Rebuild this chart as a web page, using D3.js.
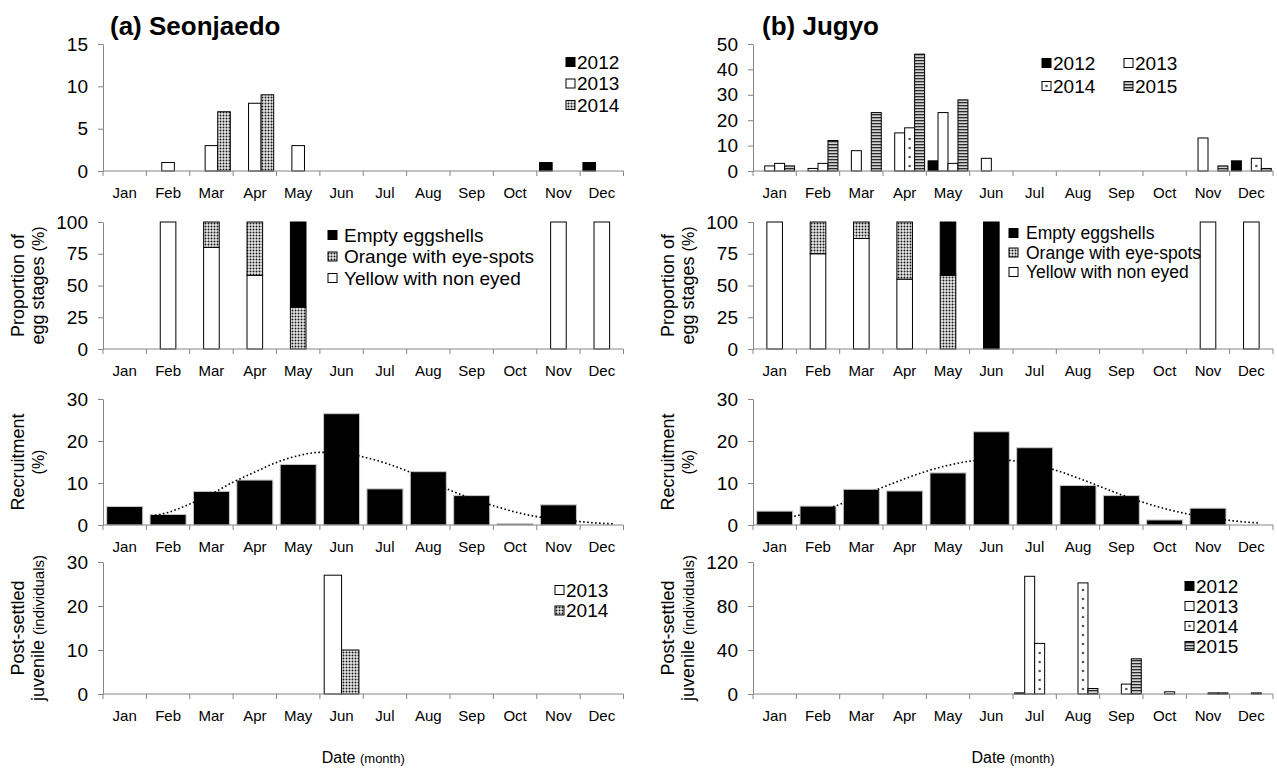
<!DOCTYPE html>
<html>
<head>
<meta charset="utf-8">
<script src="https://cdn.jsdelivr.net/npm/d3@7"></script>
<style>
  body { margin: 0; background: #fff; }
  text { font-family: "Liberation Sans", Arial, Helvetica, sans-serif; fill: #000; }
</style>
</head>
<body>
<svg id="fig" width="1277" height="769"></svg>
<script>
// ---------- data ----------
const months = ["Jan","Feb","Mar","Apr","May","Jun","Jul","Aug","Sep","Oct","Nov","Dec"];

// Egg masses per month, Seonjaedo
const seonEggYears = ["2012","2013","2014"];
const seonEgg2012 = [0,0,0,0,0,0,0,0,0,0,1,1];
const seonEgg2013 = [0,1,3,8,3,0,0,0,0,0,0,0];
const seonEgg2014 = [0,0,7,9,0,0,0,0,0,0,0,0];

// Egg masses per month, Jugyo
const jugEggYears = ["2012","2013","2014","2015"];
const jugEgg2012 = [0,0,0,0,4,0,0,0,0,0,0,4];
const jugEgg2013 = [2,1,8,15,23,5,0,0,0,0,13,0];
const jugEgg2014 = [3,3,0,17,3,0,0,0,0,0,0,5];
const jugEgg2015 = [2,12,23,46,28,0,0,0,0,0,2,1];

// Proportion of egg stages (%)
const stageNames = ["Empty eggshells","Orange with eye-spots","Yellow with non eyed"];
const seonYellow = [0,100,80,58,0,0,0,0,0,0,100,100];
const seonOrange = [0,0,20,42,33,0,0,0,0,0,0,0];
const seonEmpty  = [0,0,0,0,67,0,0,0,0,0,0,0];
const jugYellow  = [100,75,87,55,0,0,0,0,0,0,100,100];
const jugOrange  = [0,25,13,45,58,0,0,0,0,0,0,0];
const jugEmpty   = [0,0,0,0,42,100,0,0,0,0,0,0];

// Recruitment (%)
const seonRecruit = [4.4,2.5,8.0,10.7,14.4,26.5,8.6,12.7,7.0,0.3,4.8,0];
const jugRecruit  = [3.3,4.5,8.5,8.1,12.4,22.2,18.4,9.4,7.0,1.2,4.0,0];
// Fitted seasonal curve, [month position, %]
const seonCurve = [[1.7,2.3],[2.0,3.0],[2.5,5.0],[3.0,7.4],[3.5,10.2],[4.0,12.6],[4.5,14.9],[5.0,16.5],[5.5,17.3],[6.0,17.2],[6.5,16.2],[7.0,14.8],[7.5,12.9],[8.0,10.8],[8.5,8.3],[9.0,6.3],[9.5,4.6],[10.0,3.1],[10.5,2.0],[11.0,1.3],[11.5,0.8],[12.0,0.4],[12.25,0.3]];
const jugCurve  = [[1.45,2.1],[2.0,3.3],[2.5,4.9],[3.0,6.9],[3.5,9.0],[4.0,11.0],[4.5,12.8],[5.0,14.2],[5.5,15.2],[6.0,15.6],[6.5,15.3],[7.0,14.4],[7.5,13.0],[8.0,11.2],[8.5,9.2],[9.0,7.2],[9.5,5.4],[10.0,3.9],[10.5,2.7],[11.0,1.8],[11.5,1.1],[12.0,0.6],[12.15,0.5]];

// Post-settled juveniles (individuals)
const seonJuvYears = ["2013","2014"];
const seonJuv2013 = [0,0,0,0,0,27,0,0,0,0,0,0];
const seonJuv2014 = [0,0,0,0,0,10,0,0,0,0,0,0];
const jugJuvYears = ["2012","2013","2014","2015"];
const jugJuv2012 = [0,0,0,0,0,0,1,0,0,0,0,0];
const jugJuv2013 = [0,0,0,0,0,0,107,0,0,0,0,0];
const jugJuv2014 = [0,0,0,0,0,0,46,101,9,2,1,1];
const jugJuv2015 = [0,0,0,0,0,0,0,5,32,0,1,0];

// Axis ticks
const eggTicksA = [0,5,10,15];
const eggTicksB = [0,10,20,30,40,50];
const propTicks = [0,25,50,75,100];
const recTicks = [0,10,20,30];
const juvTicksA = [0,10,20,30];
const juvTicksB = [0,40,80,120];

// ---------- drawing ----------
const svg = d3.select("#fig");
const defs = svg.append("defs");
const FONT = '"Liberation Sans", Arial, Helvetica, sans-serif';
const AXIS = "#868686";

// dense dotted fill
const dense = defs.append("pattern").attr("id","dense")
  .attr("patternUnits","userSpaceOnUse").attr("width",3).attr("height",3);
dense.append("rect").attr("width",3).attr("height",3).attr("fill","#ebebeb");
dense.append("circle").attr("cx",1.5).attr("cy",1.5).attr("r",1.0).attr("fill","#1a1a1a");

// horizontal stripes
const stripes = defs.append("pattern").attr("id","stripes")
  .attr("patternUnits","userSpaceOnUse").attr("width",4).attr("height",3);
stripes.append("rect").attr("width",4).attr("height",3).attr("fill","#d4d4d4");
stripes.append("rect").attr("width",4).attr("height",1.3).attr("fill","#2b2b2b");

const styles = {
  black:  {fill:"#000"},
  white:  {fill:"#fff"},
  dense:  {fill:"url(#dense)"},
  sparse: {fill:"#fff", dots:true},
  stripe: {fill:"url(#stripes)"}
};

const colL = {x0:103, x1:623.5};
const colR = {x0:753, x1:1273};
const rows = [
  {top:44,  zero:171},
  {top:222, zero:349},
  {top:399, zero:525},
  {top:562, zero:694}
];

function frame(col, row, max, ticks) {
  const x = d3.scaleBand().domain(months).range([col.x0, col.x1]);
  const xm = d3.scaleLinear().domain([0.5, 12.5]).range([col.x0, col.x1]);
  const y = d3.scaleLinear().domain([0, max]).range([row.zero, row.top]);
  const g = svg.append("g");
  const ya = g.append("g").attr("transform", `translate(${col.x0},0)`)
    .call(d3.axisLeft(y).tickValues(ticks).tickSize(5).tickSizeOuter(0).tickPadding(10));
  ya.select(".domain").attr("stroke", AXIS);
  ya.selectAll(".tick line").attr("stroke", AXIS);
  ya.selectAll(".tick text").attr("font-size", 19).attr("font-family", FONT).attr("fill","#000");
  const axisG = g.append("g");
  axisG.append("line").attr("x1", col.x0).attr("x2", col.x1)
    .attr("y1", row.zero).attr("y2", row.zero).attr("stroke", AXIS);
  const bounds = months.map(m => x(m)).concat([col.x1]);
  axisG.selectAll("line.b").data(bounds).join("line").attr("class","b")
    .attr("x1", d => d).attr("x2", d => d)
    .attr("y1", row.zero).attr("y2", row.zero + 5).attr("stroke", AXIS);
  axisG.selectAll("text").data(months).join("text")
    .attr("x", m => x(m) + x.bandwidth() / 2).attr("y", row.zero + 27)
    .attr("text-anchor", "middle").attr("font-size", 15).text(m => m);
  return {g, x, xm, y, axisG};
}

function grouped(f, years, seriesList, styleList, frac) {
  const bw = f.x.bandwidth();
  const slot = bw * frac;
  const off = (bw - slot * years.length) / 2;
  const xs = d3.scaleBand().domain(years).range([off, off + slot * years.length]);
  const bars = f.g.insert("g", () => f.axisG.node());
  years.forEach((yr, si) => {
    const st = styles[styleList[si]];
    const data = months.map((m, i) => ({m, v: seriesList[si][i]})).filter(d => d.v > 0);
    bars.selectAll(null).data(data).join("rect")
      .attr("x", d => f.x(d.m) + xs(yr)).attr("width", xs.bandwidth())
      .attr("y", d => f.y(d.v)).attr("height", d => f.y(0) - f.y(d.v))
      .attr("fill", st.fill).attr("stroke", "#000").attr("stroke-width", 1);
    if (st.dots) {
      data.forEach(d => {
        const cx = f.x(d.m) + xs(yr) + xs.bandwidth() / 2;
        const top = f.y(d.v), bot = f.y(0);
        d3.range(bot - 5, top + 3, -9).forEach(cy => {
          bars.append("circle").attr("cx", cx).attr("cy", cy).attr("r", 1.3).attr("fill", "#555");
        });
      });
    }
  });
}

function stacked(f, layers, styleList, frac) {
  const bw = f.x.bandwidth();
  const w = bw * frac;
  const bars = f.g.insert("g", () => f.axisG.node());
  const table = months.map((m, i) => ({m, a: layers[0][i], b: layers[1][i], c: layers[2][i]}));
  const stack = d3.stack().keys(["a","b","c"])(table);
  stack.forEach((layer, li) => {
    bars.selectAll(null).data(layer.filter(d => d[1] - d[0] > 0)).join("rect")
      .attr("x", d => f.x(d.data.m) + (bw - w) / 2).attr("width", w)
      .attr("y", d => f.y(d[1])).attr("height", d => f.y(d[0]) - f.y(d[1]))
      .attr("fill", styles[styleList[li]].fill).attr("stroke", "#000").attr("stroke-width", 1);
  });
}

function recruit(f, values, curve) {
  const bw = f.x.bandwidth();
  const w = bw * 0.83;
  const bars = f.g.insert("g", () => f.axisG.node());
  bars.selectAll(null).data(months.map((m, i) => ({m, v: values[i]})).filter(d => d.v > 0)).join("rect")
    .attr("x", d => f.x(d.m) + (bw - w) / 2).attr("width", w)
    .attr("y", d => f.y(d.v)).attr("height", d => f.y(0) - f.y(d.v))
    .attr("fill", "#000").attr("stroke", "#c8c8c8").attr("stroke-width", 1);
  const line = d3.line().x(d => f.xm(d[0])).y(d => f.y(d[1])).curve(d3.curveMonotoneX);
  f.g.append("path").attr("d", line(curve)).attr("fill", "none")
    .attr("stroke", "#000").attr("stroke-width", 1.6).attr("stroke-dasharray", "1.6,2.4");
}

function legendItem(g, x, y, styleName, label, gap, size) {
  const st = styles[styleName];
  g.append("rect").attr("x", x).attr("y", y - 4.5).attr("width", 9).attr("height", 9)
    .attr("fill", st.fill).attr("stroke", "#000").attr("stroke-width", 1);
  if (st.dots) g.append("circle").attr("cx", x + 4.5).attr("cy", y).attr("r", 1.3).attr("fill", "#555");
  g.append("text").attr("x", x + gap).attr("y", y + size * 0.36).attr("font-size", size).text(label);
}

function yTitle(x, yc, lines) {
  const t = svg.append("text").attr("transform", `translate(${x},${yc}) rotate(-90)`)
    .attr("text-anchor", "middle");
  lines.forEach((ln, i) => {
    const ts = t.append("tspan").attr("x", 0).attr("dy", i === 0 ? 0 : 20);
    ln.forEach(part => ts.append("tspan").attr("font-size", part[1]).text(part[0]));
  });
}

// ----- Row 1: egg masses -----
const a1 = frame(colL, rows[0], 15, eggTicksA);
grouped(a1, seonEggYears, [seonEgg2012, seonEgg2013, seonEgg2014], ["black","white","dense"], 0.29);
const b1 = frame(colR, rows[0], 50, eggTicksB);
grouped(b1, jugEggYears, [jugEgg2012, jugEgg2013, jugEgg2014, jugEgg2015], ["black","white","sparse","stripe"], 0.23);

// ----- Row 2: egg stages -----
const a2 = frame(colL, rows[1], 100, propTicks);
stacked(a2, [seonYellow, seonOrange, seonEmpty], ["white","dense","black"], 0.36);
const b2 = frame(colR, rows[1], 100, propTicks);
stacked(b2, [jugYellow, jugOrange, jugEmpty], ["white","dense","black"], 0.36);

// ----- Row 3: recruitment -----
const a3 = frame(colL, rows[2], 30, recTicks);
recruit(a3, seonRecruit, seonCurve);
const b3 = frame(colR, rows[2], 30, recTicks);
recruit(b3, jugRecruit, jugCurve);

// ----- Row 4: post-settled juveniles -----
const a4 = frame(colL, rows[3], 30, juvTicksA);
grouped(a4, seonJuvYears, [seonJuv2013, seonJuv2014], ["white","dense"], 0.4);
const b4 = frame(colR, rows[3], 120, juvTicksB);
grouped(b4, jugJuvYears, [jugJuv2012, jugJuv2013, jugJuv2014, jugJuv2015], ["black","white","sparse","stripe"], 0.23);

// ----- legends -----
const leg = svg.append("g");
[["black","2012"],["white","2013"],["dense","2014"]].forEach((d, i) =>
  legendItem(leg, 566, 62 + i * 21.5, d[0], d[1], 11, 19));
legendItem(leg, 1042, 63, "black", "2012", 11, 19);
legendItem(leg, 1124, 63, "white", "2013", 11, 19);
legendItem(leg, 1042, 86, "sparse", "2014", 11, 19);
legendItem(leg, 1124, 86, "stripe", "2015", 11, 19);
[["black", stageNames[0]], ["dense", stageNames[1]], ["white", stageNames[2]]].forEach((d, i) => {
  legendItem(leg, 328, 235 + i * 21.5, d[0], d[1], 16, 19);
  legendItem(leg, 1009, 233 + i * 19.5, d[0], d[1], 17, 17.5);
});
[["white","2013"],["dense","2014"]].forEach((d, i) =>
  legendItem(leg, 555, 590 + i * 20.5, d[0], d[1], 11, 19));
[["black","2012"],["white","2013"],["sparse","2014"],["stripe","2015"]].forEach((d, i) =>
  legendItem(leg, 1185, 586 + i * 20, d[0], d[1], 11, 19));

// ----- titles -----
svg.append("text").attr("x", 110).attr("y", 35).attr("font-size", 26).attr("font-weight", "bold").text("(a) Seonjaedo");
svg.append("text").attr("x", 762).attr("y", 35).attr("font-size", 26).attr("font-weight", "bold").text("(b) Jugyo");

[0, 650].forEach(dx => {
  yTitle(24 + dx, (rows[1].top + rows[1].zero) / 2, [[["Proportion of", 18]], [["egg stages ", 18], ["(%)", 16]]]);
  yTitle(24 + dx, (rows[2].top + rows[2].zero) / 2, [[["Recruitment", 18]], [["(%)", 16]]]);
  yTitle(24 + dx, (rows[3].top + rows[3].zero) / 2, [[["Post-settled", 18]], [["juvenile ", 18], ["(individuals)", 15]]]);
});

[colL, colR].forEach(c => {
  const t = svg.append("text").attr("x", (c.x0 + c.x1) / 2).attr("y", 763).attr("text-anchor", "middle");
  t.append("tspan").attr("font-size", 16).text("Date ");
  t.append("tspan").attr("font-size", 13).text("(month)");
});
</script>
</body>
</html>
